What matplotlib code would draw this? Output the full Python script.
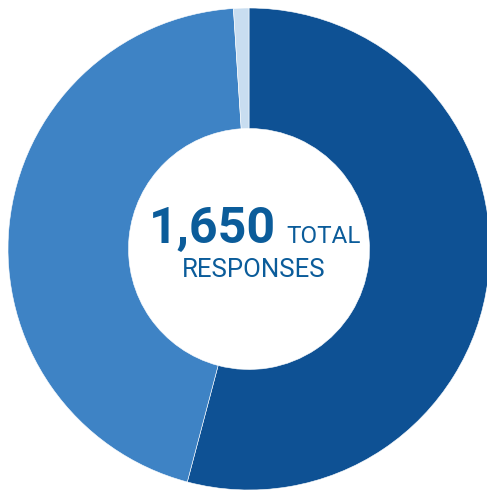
import matplotlib
matplotlib.use("Agg")
import matplotlib.pyplot as plt

# response breakdown (total 1,650)
labels = ["Group A", "Group B", "Group C"]
counts = [893, 740, 17]
colors = ["#0E5194", "#3E83C5", "#C8DDF0"]
total_label = "1,650"

W, H = 487, 491
fig = plt.figure(figsize=(W / 100, H / 100), dpi=100)
ax = fig.add_axes([0, 0, 1, 1])

cx, cy, r = 249, 242, 241
ax.pie(counts, colors=colors, startangle=90, counterclock=False,
       center=(cx, cy), radius=r, frame=True,
       wedgeprops=dict(width=r * 0.5, edgecolor="white", linewidth=0.4))
ax.set_xlim(0, W)
ax.set_ylim(0, H)
ax.set_aspect("equal")
ax.axis("off")

txt_color = "#0B5C9A"
ax.text(149, 248, total_label, fontsize=36, fontweight="bold",
        family="Roboto", color=txt_color, ha="left", va="baseline")
ax.text(286, 248, "TOTAL", fontsize=17.5, family="Roboto",
        color=txt_color, ha="left", va="baseline")
ax.text(254, 214, "RESPONSES", fontsize=18.5, family="Roboto",
        color=txt_color, ha="center", va="baseline")

fig.savefig("out.png", dpi=100)
